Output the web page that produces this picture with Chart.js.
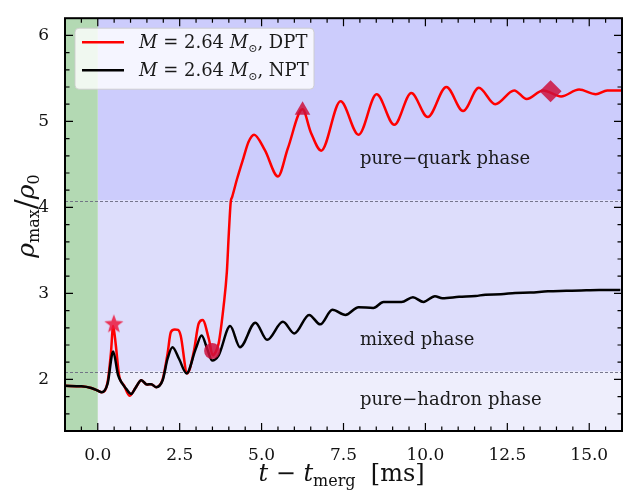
<!DOCTYPE html>
<html>
<head>
<meta charset="utf-8">
<script src="https://cdn.jsdelivr.net/npm/chart.js@4.4.0/dist/chart.umd.min.js"></script>
<style>
  html, body { margin: 0; padding: 0; background: #fff; }
  #wrap { width: 633px; height: 490px; }
</style>
</head>
<body>
<div id="wrap"><canvas id="chart" width="633" height="490"></canvas></div>
<script>
// time after merger [ms] and max density / nuclear saturation density
const dptTime = [-1.0, -0.5, -0.2, 0.0, 0.12, 0.3, 0.4, 0.47, 0.55, 0.65, 0.8, 0.97, 1.15, 1.33, 1.5, 1.63, 1.78, 1.98, 2.13, 2.23, 2.35, 2.45, 2.53, 2.73, 2.93, 3.08, 3.2, 3.39, 3.51, 3.6, 3.69, 3.84, 3.94, 4.0, 4.06, 4.1, 4.25, 4.45, 4.6, 4.77, 5.1, 5.5, 5.8, 6.25, 6.5, 6.82, 7.41, 7.96, 8.51, 9.05, 9.57, 10.07, 10.64, 11.15, 11.63, 12.13, 12.71, 13.09, 13.59, 14.14, 14.69, 15.2, 15.55, 16.0];
const dptRho = [1.925, 1.92, 1.9, 1.87, 1.85, 1.97, 2.3, 2.62, 2.4, 2.05, 1.93, 1.81, 1.9, 1.99, 1.94, 1.945, 1.91, 2.0, 2.3, 2.55, 2.58, 2.575, 2.51, 2.07, 2.32, 2.65, 2.69, 2.47, 2.28, 2.32, 2.42, 2.85, 3.25, 3.7, 4.07, 4.12, 4.33, 4.58, 4.76, 4.845, 4.665, 4.36, 4.685, 5.14, 4.875, 4.66, 5.235, 4.845, 5.315, 4.96, 5.33, 5.05, 5.40, 5.12, 5.39, 5.20, 5.36, 5.26, 5.36, 5.29, 5.37, 5.315, 5.36, 5.36];

const nptTime = [-1.0, -0.5, -0.2, 0.0, 0.12, 0.3, 0.47, 0.62, 0.75, 0.87, 1.02, 1.15, 1.33, 1.5, 1.63, 1.78, 1.98, 2.13, 2.28, 2.48, 2.71, 2.99, 3.17, 3.34, 3.49, 3.69, 4.04, 4.34, 4.81, 5.17, 5.65, 6.0, 6.45, 6.79, 7.16, 7.56, 7.96, 8.41, 8.72, 9.27, 9.62, 9.94, 10.29, 10.52, 11.03, 11.53, 11.83, 12.3, 12.74, 13.2, 13.74, 14.3, 14.75, 15.3, 15.95];
const nptRho = [1.925, 1.92, 1.9, 1.87, 1.85, 1.95, 2.325, 2.05, 1.95, 1.89, 1.83, 1.9, 1.99, 1.94, 1.945, 1.91, 1.99, 2.24, 2.375, 2.24, 2.07, 2.355, 2.51, 2.355, 2.22, 2.28, 2.62, 2.375, 2.66, 2.46, 2.67, 2.535, 2.75, 2.64, 2.81, 2.75, 2.84, 2.83, 2.90, 2.90, 2.955, 2.90, 2.967, 2.944, 2.96, 2.97, 2.985, 2.99, 3.005, 3.01, 3.024, 3.03, 3.035, 3.04, 3.04];

const markerTime = [0.49, 3.49, 6.25, 13.82];
const markerRho = [2.64, 2.33, 5.13, 5.35];

const xTicks = [0, 2.5, 5, 7.5, 10, 12.5, 15];
const yTicks = [2, 3, 4, 5, 6];

const mergerTime = 0;
const hadronLimit = 2.09;
const quarkOnset = 4.08;
const phaseLabels = ['pure\u2212quark phase', 'mixed phase', 'pure\u2212hadron phase'];
const phaseLabelRho = [4.5, 2.4, 1.7];
const phaseLabelTime = 8.0;

const SERIF = '"DejaVu Serif", serif';
const markerColor = 'rgba(204, 16, 60, 0.85)';

// filled five-point star for the first marker
function starImage(r) {
  const c = document.createElement('canvas');
  c.width = c.height = 2 * r + 2;
  const g = c.getContext('2d');
  g.fillStyle = 'rgba(236, 24, 60, 0.85)';
  g.beginPath();
  for (let i = 0; i < 10; i++) {
    const rad = i % 2 === 0 ? r : r * 0.42;
    const a = -Math.PI / 2 + i * Math.PI / 5;
    const px = r + 1 + rad * Math.cos(a), py = r + 1 + rad * Math.sin(a);
    i === 0 ? g.moveTo(px, py) : g.lineTo(px, py);
  }
  g.closePath();
  g.fill();
  return c;
}

function toPoints(ts, vs) {
  return ts.map((t, i) => ({ x: t, y: vs[i] }));
}

// draw a run of text pieces with mixed fonts / subscripts, returns width
function drawPieces(ctx, pieces, x, y, measureOnly) {
  let cx = x;
  for (const p of pieces) {
    ctx.font = p.font;
    if (!measureOnly) ctx.fillText(p.t, cx, y + (p.dy || 0));
    cx += ctx.measureText(p.t).width;
  }
  return cx - x;
}

const backdrop = {
  id: 'backdrop',
  beforeDatasetsDraw(chart) {
    const { ctx, chartArea: a, scales: { x, y } } = chart;
    const x0 = x.getPixelForValue(mergerTime);
    const yq = y.getPixelForValue(quarkOnset);
    const yh = y.getPixelForValue(hadronLimit);
    ctx.save();
    ctx.fillStyle = 'rgb(204, 204, 252)';
    ctx.fillRect(x0, a.top, a.right - x0, yq - a.top);
    ctx.fillStyle = 'rgb(221, 221, 251)';
    ctx.fillRect(x0, yq, a.right - x0, yh - yq);
    ctx.fillStyle = 'rgb(238, 238, 252)';
    ctx.fillRect(x0, yh, a.right - x0, a.bottom - yh);
    ctx.fillStyle = 'rgb(179, 217, 179)';
    ctx.fillRect(a.left, a.top, x0 - a.left, a.bottom - a.top);

    ctx.strokeStyle = '#6a6a80';
    ctx.lineWidth = 0.9;
    ctx.setLineDash([3, 2]);
    for (const v of [quarkOnset, hadronLimit]) {
      const py = Math.round(y.getPixelForValue(v)) + 0.5;
      ctx.beginPath();
      ctx.moveTo(a.left, py);
      ctx.lineTo(a.right, py);
      ctx.stroke();
    }
    ctx.setLineDash([]);

    ctx.fillStyle = '#1a1a1a';
    ctx.font = '18px ' + SERIF;
    ctx.textBaseline = 'alphabetic';
    ctx.textAlign = 'left';
    phaseLabels.forEach((s, i) => {
      ctx.fillText(s, x.getPixelForValue(phaseLabelTime), y.getPixelForValue(phaseLabelRho[i]));
    });
    ctx.restore();
  }
};

const frame = {
  id: 'frame',
  afterDraw(chart) {
    const { ctx, chartArea: a, scales: { x, y } } = chart;
    ctx.save();
    ctx.strokeStyle = '#000';
    ctx.lineWidth = 1.2;
    ctx.beginPath();
    for (let i = -2; i <= 32; i++) {
      const px = x.getPixelForValue(i * 0.5);
      if (px < a.left + 1 || px > a.right - 1) continue;
      const len = i % 5 === 0 ? 8 : 4.5;
      ctx.moveTo(px, a.bottom); ctx.lineTo(px, a.bottom - len);
      ctx.moveTo(px, a.top); ctx.lineTo(px, a.top + len);
    }
    for (let i = 7; i <= 31; i++) {
      const py = y.getPixelForValue(i * 0.2);
      if (py < a.top + 1 || py > a.bottom - 1) continue;
      const len = i % 5 === 0 ? 8 : 4.5;
      ctx.moveTo(a.left, py); ctx.lineTo(a.left + len, py);
      ctx.moveTo(a.right, py); ctx.lineTo(a.right - len, py);
    }
    ctx.stroke();
    ctx.lineWidth = 2;
    ctx.strokeRect(a.left, a.top, a.right - a.left, a.bottom - a.top);

    // legend
    const lx = a.left + 10, ly = a.top + 10, lw = 239, lh = 61;
    ctx.fillStyle = 'rgba(255, 255, 255, 0.8)';
    ctx.strokeStyle = 'rgba(204, 204, 204, 0.9)';
    ctx.lineWidth = 1;
    ctx.beginPath();
    ctx.roundRect(lx, ly, lw, lh, 4);
    ctx.fill();
    ctx.stroke();
    const rows = [['#ff0000', 'DPT'], ['#000000', 'NPT']];
    rows.forEach((r, i) => {
      const cy = ly + 14 + i * 28;
      ctx.strokeStyle = r[0];
      ctx.lineWidth = 2.6;
      ctx.beginPath();
      ctx.moveTo(lx + 7, cy); ctx.lineTo(lx + 49, cy);
      ctx.stroke();
      ctx.fillStyle = '#1a1a1a';
      ctx.textBaseline = 'alphabetic';
      drawPieces(ctx, [
        { t: 'M', font: 'italic 18px ' + SERIF },
        { t: ' = 2.64 ', font: '18px ' + SERIF },
        { t: 'M', font: 'italic 18px ' + SERIF },
        { t: '\u2299', font: '11px ' + SERIF, dy: 4 },
        { t: ', ' + r[1], font: '18px ' + SERIF }
      ], lx + 64, cy + 6);
    });

    // axis titles
    ctx.fillStyle = '#111';
    const xt = [
      { t: 't', font: 'italic 24px ' + SERIF },
      { t: ' \u2212 ', font: '24px ' + SERIF },
      { t: 't', font: 'italic 24px ' + SERIF },
      { t: 'merg', font: '16px ' + SERIF, dy: 5 },
      { t: '  [ms]', font: '24px ' + SERIF }
    ];
    const xw = drawPieces(ctx, xt, 0, 0, true);
    drawPieces(ctx, xt, (a.left + a.right) / 2 - xw / 2 - 2, 481);

    const yt = [
      { t: '\u03c1', font: 'italic 25px ' + SERIF },
      { t: 'max', font: '16px ' + SERIF, dy: 5 },
      { t: '/', font: '30px ' + SERIF, dy: 2 },
      { t: '\u03c1', font: 'italic 25px ' + SERIF },
      { t: '0', font: '16px ' + SERIF, dy: 5 }
    ];
    const yw = drawPieces(ctx, yt, 0, 0, true);
    ctx.translate(34, 216);
    ctx.rotate(-Math.PI / 2);
    drawPieces(ctx, yt, -yw / 2, 0);
    ctx.restore();
  }
};

new Chart(document.getElementById('chart'), {
  type: 'line',
  data: {
    datasets: [
      {
        label: 'markers',
        data: toPoints(markerTime, markerRho),
        showLine: false,
        pointStyle: [starImage(10), 'circle', 'triangle', 'rectRot'],
        pointRadius: [10, 8, 9, 11],
        pointBackgroundColor: markerColor,
        pointBorderColor: markerColor,
        pointBorderWidth: 0
      },
      {
        label: 'NPT',
        data: toPoints(nptTime, nptRho),
        borderColor: '#000000',
        borderWidth: 2.5,
        pointRadius: 0,
        cubicInterpolationMode: 'monotone'
      },
      {
        label: 'DPT',
        data: toPoints(dptTime, dptRho),
        borderColor: '#ff0000',
        borderWidth: 2.5,
        pointRadius: 0,
        cubicInterpolationMode: 'monotone'
      }
    ]
  },
  options: {
    responsive: false,
    animation: false,
    events: [],
    layout: { padding: { top: 11, right: 5, left: 0, bottom: 0 } },
    plugins: { legend: { display: false }, tooltip: { enabled: false } },
    scales: {
      x: {
        type: 'linear',
        min: -1,
        max: 16,
        grid: { display: false },
        border: { display: false },
        afterBuildTicks: s => { s.ticks = xTicks.map(v => ({ value: v })); },
        afterFit: s => { s.height = 59; },
        ticks: {
          padding: 6,
          color: '#111',
          maxRotation: 0,
          autoSkip: false,
          font: { family: SERIF, size: 17 },
          callback: v => v.toFixed(1)
        }
      },
      y: {
        min: 1.4,
        max: 6.2,
        grid: { display: false },
        border: { display: false },
        afterBuildTicks: s => { s.ticks = yTicks.map(v => ({ value: v })); },
        afterFit: s => { s.width = 65; },
        ticks: {
          padding: 8,
          color: '#111',
          font: { family: SERIF, size: 17 },
          callback: v => String(v)
        }
      }
    }
  },
  plugins: [backdrop, frame]
});
</script>
</body>
</html>
